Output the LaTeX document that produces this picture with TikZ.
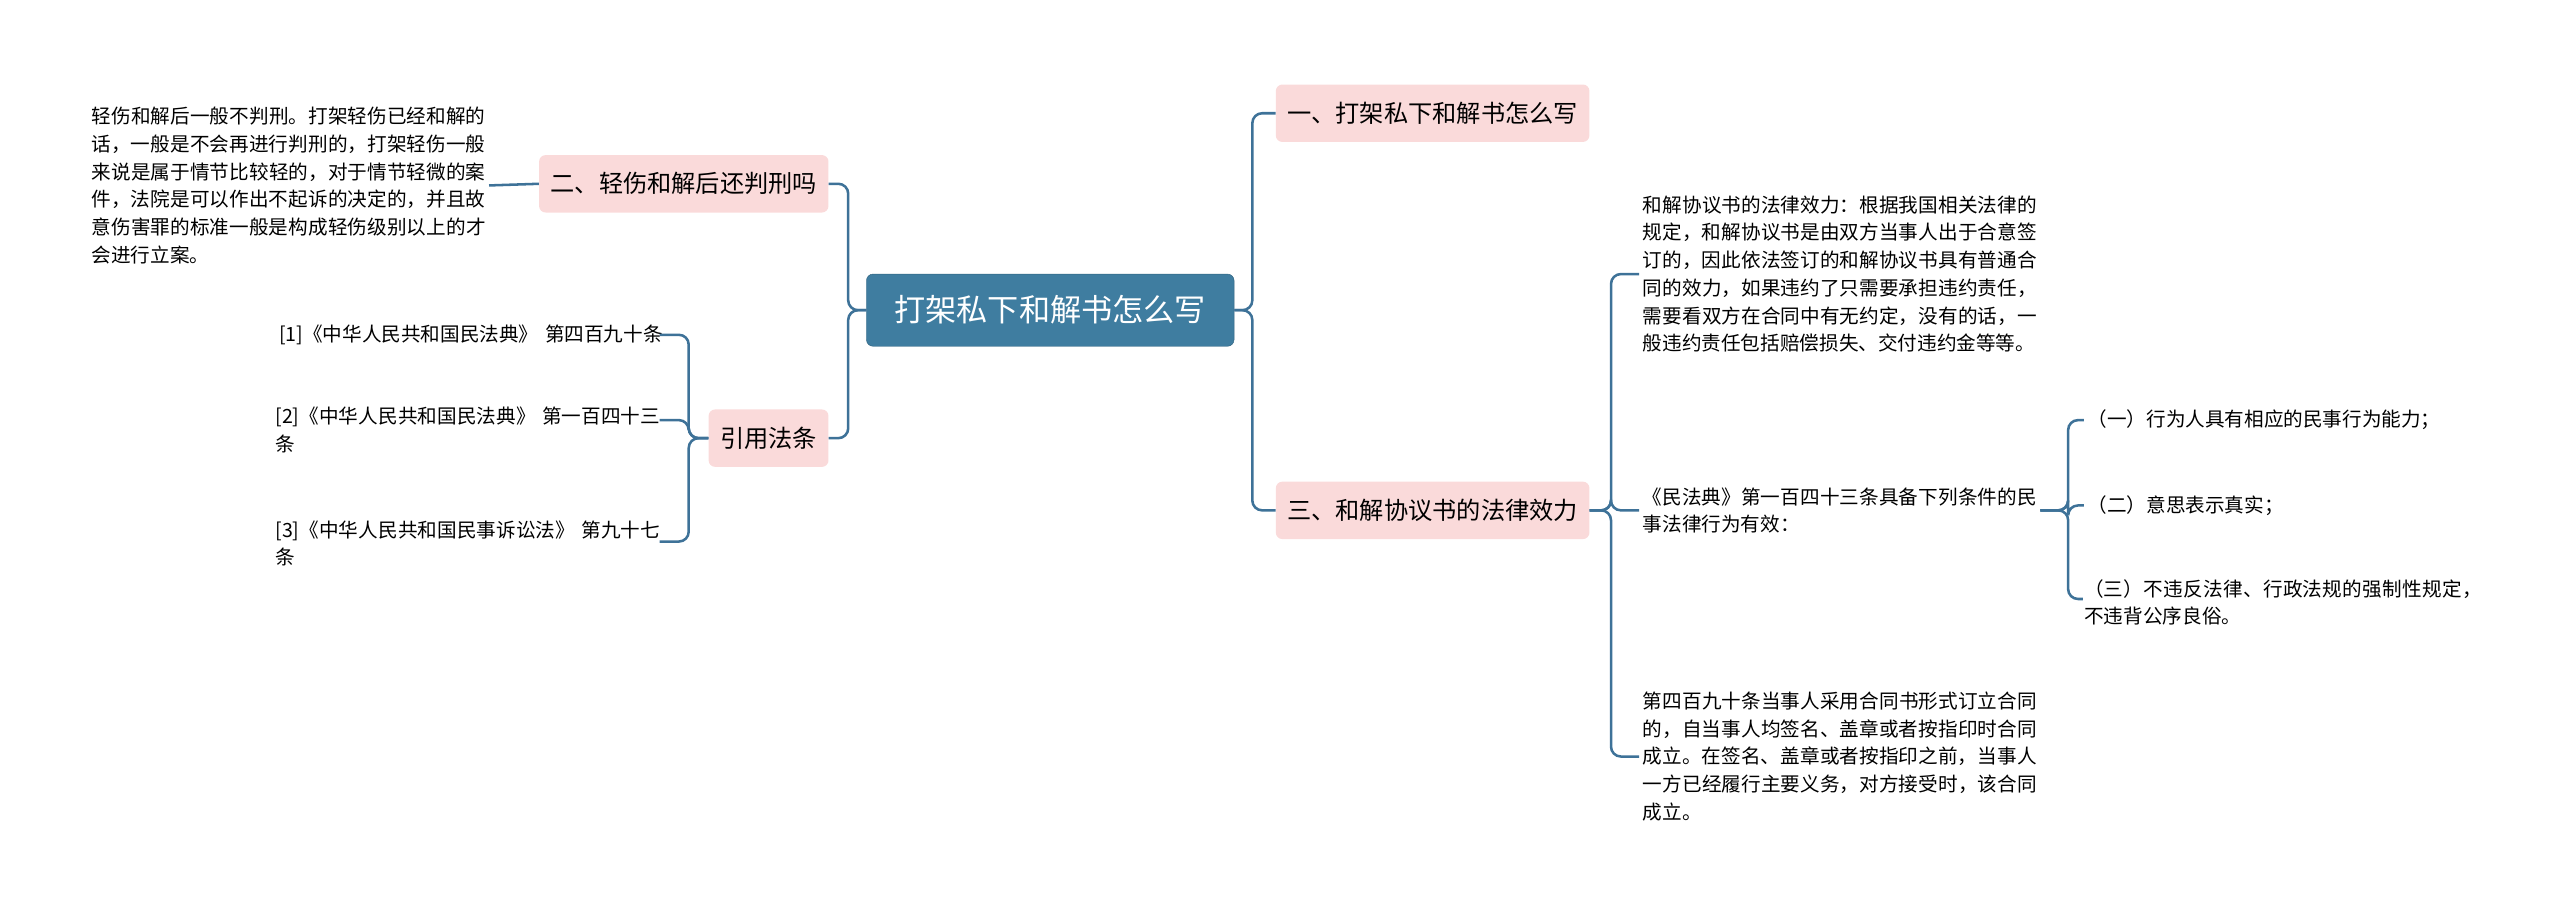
\documentclass[tikz,border=0pt]{standalone}
\usepackage{fontspec}
\setmainfont{Noto Sans CJK SC}
\XeTeXlinebreaklocale "zh"
\XeTeXlinebreakskip=0pt plus 1pt
\usetikzlibrary{positioning}
\definecolor{linkblue}{HTML}{3E7298}
\definecolor{rootblue}{HTML}{3F7DA0}
\definecolor{topicpink}{HTML}{FADADA}
\tikzset{root/.style={draw=rootblue!80!black,fill=rootblue,rounded corners=0.2cm,text=white,minimum width=11.2cm,minimum height=2.2cm,font=\fontsize{27}{30}\selectfont}}
\tikzset{topic/.style={fill=topicpink,rounded corners=0.2cm,minimum height=1.75cm,inner xsep=0.35cm,font=\fontsize{21}{24}\selectfont}}
\tikzset{leaf/.style={text width=12.1cm,align=left,inner sep=0pt,font=\fontsize{17}{24}\selectfont}}
\tikzset{link/.style={draw=linkblue,line width=2.2pt,rounded corners=0.3cm}}

\begin{document}
\begin{tikzpicture}[x=0.05cm,y=-0.05cm]
    \useasboundingbox (0,0) rectangle (1560,551);
    \node[root] (main) at (640,189) {打架私下和解书怎么写};

    \node[topic] (t1) at (873,69) {一、打架私下和解书怎么写};
    \node[topic] (t3) at (873,311) {三、和解协议书的法律效力};
    \node[topic,anchor=east] (t2) at (505,112) {二、轻伤和解后还判刑吗};
    \node[topic,anchor=east] (t4) at (505,267) {引用法条};

    \node[leaf,anchor=east] (d2) at (298,113) {轻伤和解后一般不判刑。打架轻伤已经和解的话，一般是不会再进行判刑的，打架轻伤一般来说是属于情节比较轻的，对于情节轻微的案件，法院是可以作出不起诉的决定的，并且故意伤害罪的标准一般是构成轻伤级别以上的才会进行立案。};

    \node[leaf,anchor=east,text width=11.8cm] (r1) at (404,204) {\hfill[1]《中华人民共和国民法典》 第四百九十条};
    \node[leaf,anchor=north east,text width=11.8cm] (r2) at (404,248) {[2]《中华人民共和国民法典》 第一百四十三条};
    \node[leaf,anchor=north east,text width=11.8cm] (r3) at (404,317) {[3]《中华人民共和国民事诉讼法》 第九十七条};

    \node[leaf,anchor=west] (e1) at (1001,167) {和解协议书的法律效力：根据我国相关法律的规定，和解协议书是由双方当事人出于合意签订的，因此依法签订的和解协议书具有普通合同的效力，如果违约了只需要承担违约责任，需要看双方在合同中有无约定，没有的话，一般违约责任包括赔偿损失、交付违约金等等。};
    \node[leaf,anchor=west] (e2) at (1001,311) {《民法典》第一百四十三条具备下列条件的民事法律行为有效：};
    \node[leaf,anchor=west] (e3) at (1001,461) {第四百九十条当事人采用合同书形式订立合同的，自当事人均签名、盖章或者按指印时合同成立。在签名、盖章或者按指印之前，当事人一方已经履行主要义务，对方接受时，该合同成立。};

    \node[leaf,anchor=west,text width=12.5cm] (f1) at (1272,256) {（一）行为人具有相应的民事行为能力；};
    \node[leaf,anchor=west,text width=12.5cm] (f2) at (1272,308) {（二）意思表示真实；};
    \node[leaf,anchor=north west,text width=12.5cm] (f3) at (1270,353) {（三）不违反法律、行政法规的强制性规定，不违背公序良俗。};

    % main branches
    \foreach \t in {t1,t3}
        \path[link] (main.east) -- ++(11,0) |- (\t.west);
    \foreach \t in {t2,t4}
        \path[link] (main.west) -- ++(-11,0) |- (\t.east);

    % details
    \path[link] (t2.west) -- (d2.east);
    \path[link] (t4.west) -- ++(-12,0) |- ([xshift=-3pt]r1.east);
    \path[link] (t4.west) -- ++(-12,0) |- ([xshift=-3pt]r2.north east |- 0,256);
    \path[link] (t4.west) -- ++(-12,0) |- ([xshift=-3pt]r3.north east |- 0,330);
    \foreach \e in {e1,e2,e3}
        \path[link] (t3.east) -- ++(13,0) |- ([xshift=-3pt]\e.west);
    \path[link] (e2.east) -- ++(17,0) |- ([xshift=-3pt]f1.west);
    \path[link] (e2.east) -- ++(17,0) |- ([xshift=-3pt]f2.west);
    \path[link] (e2.east) -- ++(17,0) |- ([xshift=-1pt]f3.north west |- 0,365);
\end{tikzpicture}
\end{document}
